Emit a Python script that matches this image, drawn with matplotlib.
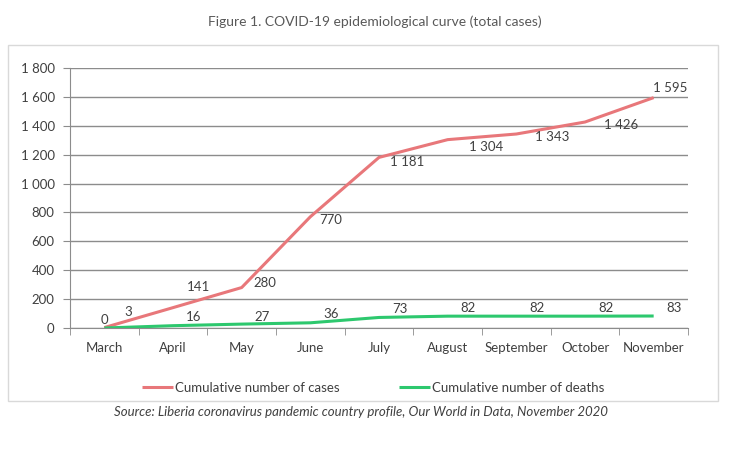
import matplotlib.pyplot as plt
import matplotlib.patches as patches
from matplotlib.ticker import FuncFormatter, MultipleLocator

plt.rcParams['font.family'] = ['Lato', 'DejaVu Sans']

months = ['March', 'April', 'May', 'June', 'July', 'August',
          'September', 'October', 'November']
cases = [3, 141, 280, 770, 1181, 1304, 1343, 1426, 1595]
deaths = [0, 16, 27, 36, 73, 82, 82, 82, 83]

# label offsets in points (label styling, not data)
case_off = [(17, 11), (18, 15), (17, 3), (15, -2), (20, -3), (28, -5), (26, -2), (26, -2), (12, 7)]
death_off = [(0, 6), (15, 6), (15, 5), (15, 6), (15, 6), (15, 6), (15, 6), (15, 6), (15, 6)]

red = '#E8777A'
green = '#2DC86E'
txt = '#404040'
grid = '#8C8C8C'
fs = 9.5


def fmt(v):
    return f'{int(v):,}'.replace(',', ' ')


fig = plt.figure(figsize=(7.39, 4.5), dpi=100)
ax = fig.add_axes([70 / 739, 1 - 328 / 450, 618 / 739, 260 / 450])

x = list(range(len(months)))
ax.plot(x, cases, color=red, lw=2.2, label='Cumulative number of cases', solid_capstyle='butt')
ax.plot(x, deaths, color=green, lw=2.2, label='Cumulative number of deaths', solid_capstyle='butt')

for i in x:
    ax.annotate(fmt(cases[i]), (i, cases[i]), xytext=case_off[i], textcoords='offset points',
                ha='center', va='center', fontsize=fs, color=txt)
    ax.annotate(fmt(deaths[i]), (i, deaths[i]), xytext=death_off[i], textcoords='offset points',
                ha='center', va='center', fontsize=fs, color=txt)

ax.set_xlim(-0.5, len(months) - 0.5)
ax.set_ylim(0, 1800)
ax.yaxis.set_major_locator(MultipleLocator(200))
ax.yaxis.set_major_formatter(FuncFormatter(lambda v, p: fmt(v)))
ax.set_xticks(x)
ax.set_xticklabels(months)
ax.set_xticks([i - 0.5 for i in range(len(months) + 1)], minor=True)
ax.tick_params(axis='x', which='major', length=0, pad=10, labelsize=fs, labelcolor=txt)
ax.tick_params(axis='x', which='minor', length=5, color=grid, direction='out')
ax.tick_params(axis='y', length=5, color=grid, labelsize=fs, labelcolor=txt, pad=6)
ax.grid(axis='y', color=grid, lw=1)
ax.set_axisbelow(True)
for s in ['top', 'right']:
    ax.spines[s].set_visible(False)
ax.spines['left'].set_color(grid)
ax.spines['bottom'].set_color(grid)

fig.legend(loc='center', bbox_to_anchor=(373 / 739, 1 - 388 / 450), ncol=2, frameon=False,
           fontsize=fs, labelcolor=txt, handlelength=2.4, handletextpad=0.1, columnspacing=4.5)

fig.patches.append(patches.Rectangle((8 / 739, 1 - 401 / 450), 710 / 739, 356 / 450,
                                     transform=fig.transFigure, fill=False,
                                     edgecolor='#D9D9D9', lw=1))

fig.text(375 / 739, 1 - 22 / 450, 'Figure 1. COVID-19 epidemiological curve (total cases)',
         ha='center', va='center', fontsize=10, color='#595959')
fig.text(361 / 739, 1 - 412 / 450,
         'Source: Liberia coronavirus pandemic country profile, Our World in Data, November 2020',
         ha='center', va='center', fontsize=fs, color=txt, style='italic')

fig.savefig('out.png', dpi=100)
